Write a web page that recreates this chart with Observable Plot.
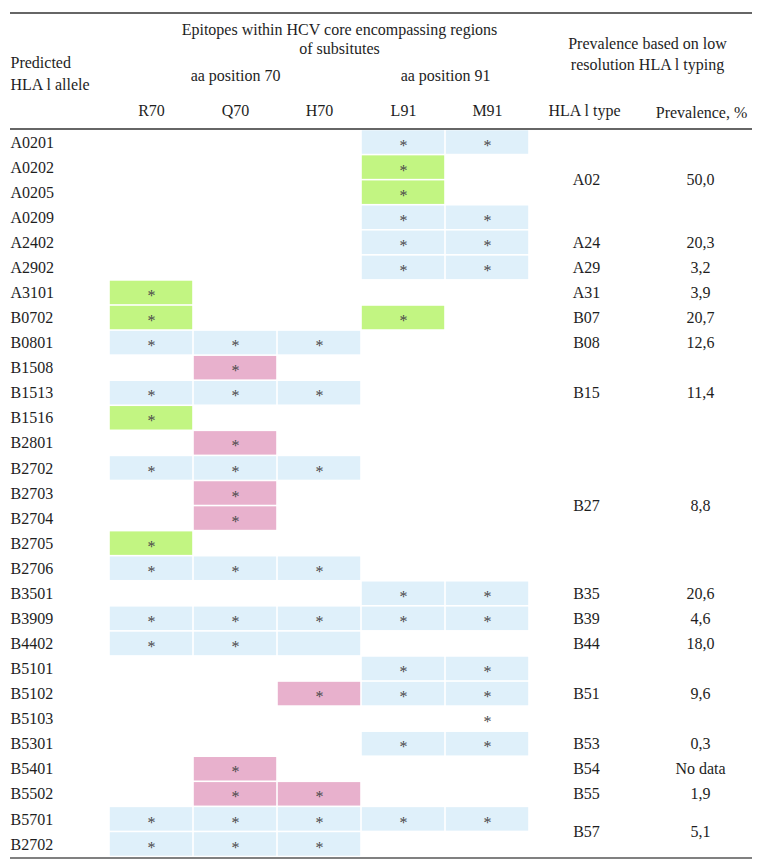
<!DOCTYPE html>
<html><head><meta charset="utf-8">
<script src="https://cdn.jsdelivr.net/npm/d3@7"></script>
<script src="https://cdn.jsdelivr.net/npm/@observablehq/plot@0.6"></script>
<style>html,body{margin:0;padding:0;background:#fff} svg text{font-family:"Liberation Serif","Times New Roman",serif !important}</style>
</head><body><div id="chart"></div>
<script>
// ---- data ----
const alleles = ["A0201","A0202","A0205","A0209","A2402","A2902","A3101","B0702","B0801","B1508","B1513","B1516","B2801","B2702","B2703","B2704","B2705","B2706","B3501","B3909","B4402","B5101","B5102","B5103","B5301","B5401","B5502","B5701","B2702"];
const columns = ["R70","Q70","H70","L91","M91"];
// codes: b = blue cell with *, g = green cell with *, p = pink cell with *, e = blue cell without *, s = * without cell
const R70 = ["","","","","","","g","g","b","","b","g","","b","","","g","b","","b","b","","","","","","","b","b"];
const Q70 = ["","","","","","","","","b","p","b","","p","b","p","p","","b","","b","b","","","","","p","p","b","b"];
const H70 = ["","","","","","","","","b","","b","","","b","","","","b","","b","e","","p","","","","p","b","b"];
const L91 = ["b","g","g","b","b","b","","g","","","","","","","","","","","b","b","","b","b","","b","","","b",""];
const M91 = ["b","","","b","b","b","","","","","","","","","","","","","b","b","","b","b","s","b","","","b",""];
const alleleType = ["A02","A02","A02","A02","A24","A29","A31","B07","B08","B15","B15","B15","B27","B27","B27","B27","B27","B27","B35","B39","B44","B51","B51","B51","B53","B54","B55","B57","B57"];
const hlaTypes = ["A02","A24","A29","A31","B07","B08","B15","B27","B35","B39","B44","B51","B53","B54","B55","B57"];
const prevalence = ["50,0","20,3","3,2","3,9","20,7","12,6","11,4","8,8","20,6","4,6","18,0","9,6","0,3","No data","1,9","5,1"];
const titleLines = ["Epitopes within HCV core encompassing regions","of subsitutes"];
const alleleTitleLines = ["Predicted","HLA l allele"];
const prevTitleLines = ["Prevalence based on low","resolution HLA l typing"];
const positionLabels = ["aa position 70","aa position 91"];
const typeHeader = "HLA l type";
const prevHeader = "Prevalence, %";

// ---- derived tables ----
const colData = {R70, Q70, H70, L91, M91};
const cells = [];
alleles.forEach((a, i) => columns.forEach(c => { const v = colData[c][i]; if (v) cells.push({i, col: c, code: v}); }));
const groups = hlaTypes.map((t, k) => {
  const idx = alleleType.map((x, i) => x === t ? i : -1).filter(i => i >= 0);
  return {type: t, prev: prevalence[k], i: d3.mean(idx)};
});

const font = "Liberation Serif";
const ink = "#1e1e1e";
const T = {fontFamily: font, fill: ink, lineAnchor: "middle", fontSize: 16};
const C = {...T, textAnchor: "middle"};

const chart = Plot.plot({
  width: 761, height: 868,
  marginLeft: 10, marginRight: 9, marginTop: 129, marginBottom: 11,
  style: {fontFamily: font, fontSize: "16px", color: ink, background: "white", overflow: "visible"},
  x: {type: "band", domain: columns, range: [108, 529], padding: 0, axis: null},
  y: {domain: [-0.5, alleles.length - 0.5], range: [129.5, 856.5], axis: null},
  color: {type: "ordinal", domain: ["b","e","g","p"], range: ["#dff0fa","#dff0fa","#c2f582","#e8b1cd"]},
  marks: [
    Plot.barY(cells.filter(d => d.code !== "s"), {x: "col", y1: d => d.i - 0.5, y2: d => d.i + 0.5, fill: "code", inset: 0.8}),
    Plot.text(cells.filter(d => d.code !== "e"), {...C, x: "col", y: "i", text: () => "*", fill: "#4a4a4a", dy: 3, fontSize: 16}),
    Plot.text(alleles, {...T, y: (d, i) => i, text: d => d, frameAnchor: "left", textAnchor: "start"}),
    Plot.text(groups, {...C, y: "i", text: "type", frameAnchor: "right", dx: -166}),
    Plot.text(groups, {...C, y: "i", text: "prev", frameAnchor: "right", dx: -52}),
    // header
    Plot.text(columns, {...C, x: d => d, text: d => d, frameAnchor: "top", dy: -19}),
    Plot.text([titleLines.join("\n")], {...C, x: () => "H70", dx: 20, frameAnchor: "top", dy: -91.5, lineHeight: 1.2}),
    Plot.text([alleleTitleLines.join("\n")], {...T, frameAnchor: "top-left", textAnchor: "start", dy: -58, lineHeight: 1.38}),
    Plot.text([prevTitleLines.join("\n")], {...C, frameAnchor: "top-right", dx: -105, dy: -77, lineHeight: 1.31}),
    Plot.text([positionLabels[0]], {...C, x: () => "Q70", frameAnchor: "top", dy: -54}),
    Plot.text([positionLabels[1]], {...C, x: () => "L91", frameAnchor: "top", dx: 42, dy: -54}),
    Plot.text([typeHeader], {...C, frameAnchor: "top-right", dx: -168, dy: -19}),
    Plot.text([prevHeader], {...C, frameAnchor: "top-right", dx: -51, dy: -17}),
    // rules
    Plot.ruleY([-0.5], {dy: -117, stroke: "#333", strokeWidth: 1.6}),
    Plot.ruleY([-0.5], {dy: -1, stroke: "#333", strokeWidth: 1.6}),
    Plot.ruleY([alleles.length - 0.5], {dy: 1, stroke: "#808080", strokeWidth: 2})
  ]
});
document.getElementById("chart").appendChild(chart);
</script>
</body></html>
